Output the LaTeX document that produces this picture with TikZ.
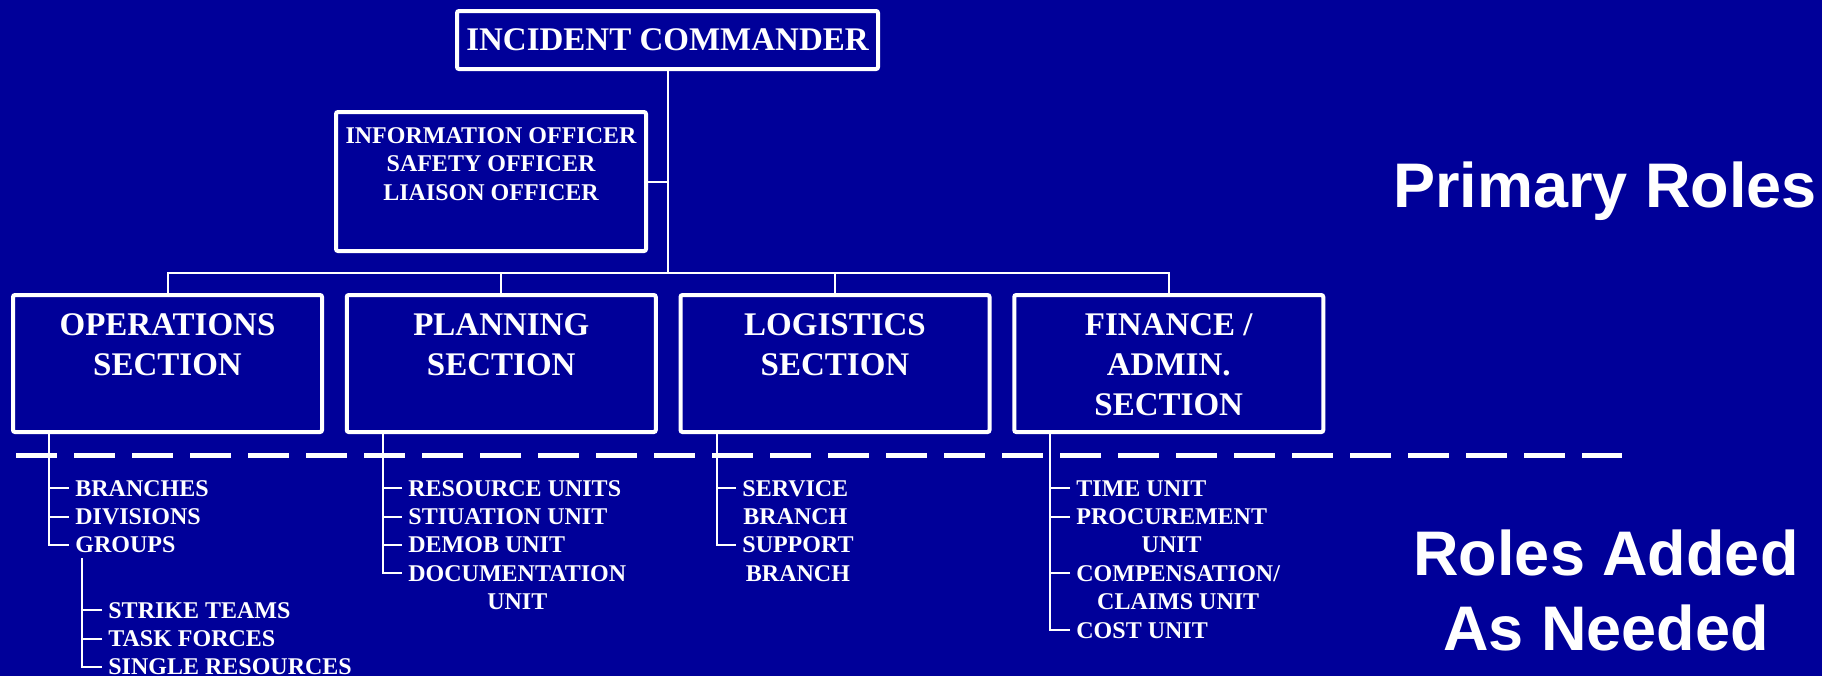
\documentclass[tikz,border=0pt]{standalone}
\usepackage{fontspec}
\setmainfont{Liberation Serif}
\newfontfamily\labelsans{Liberation Sans}
\definecolor{slideblue}{RGB}{0,0,153}
\begin{document}
% one unit = one pixel of a 1840 x 676 slide, y running downwards
\begin{tikzpicture}[x=0.5pt,y=-0.5pt,
  box/.style={draw=white, line width=2pt, rounded corners=1pt, inner sep=0pt},
  boxtext/.style={text=white, align=center, inner sep=0pt, anchor=north},
  bigtitle/.style={font=\bfseries\fontsize{16.5}{20}\selectfont},
  smalltitle/.style={font=\bfseries\fontsize{12}{14.2}\selectfont},
  section/.style={box, minimum width=154.5pt, minimum height=68.5pt},
  item/.style={text=white, font=\bfseries\fontsize{12}{14.2}\selectfont,
    inner xsep=3pt, inner ysep=0pt, anchor=base west},
  cont/.style={item, anchor=base},
  link/.style={draw=white, line width=1pt},
  divider/.style={draw=white, line width=2.5pt, dash pattern=on 20.5pt off 8.5pt},
  sidelabel/.style={text=white, inner sep=0pt, anchor=base,
    font=\labelsans\bfseries\fontsize{31.5}{37.5}\selectfont}]

\useasboundingbox (0,0) rectangle (1840,676);
\fill[white] (0,0) rectangle (1840,676);
\fill[slideblue] (0,0) rectangle (1822,676);

% command and staff
\node[box, bigtitle, text=white, minimum width=210.5pt, minimum height=29pt]
  (ic) at (667.5,40) {INCIDENT COMMANDER};
\node[box, minimum width=155pt, minimum height=69.5pt] (info) at (491,181.5) {};
\node[boxtext, smalltitle] (infotext) at (491,127)
  {INFORMATION OFFICER\\SAFETY OFFICER\\LIAISON OFFICER};

% general staff sections
\node[section] (ops)  at (167.5,363.5) {};
\node[section] (plan) at (501.25,363.5) {};
\node[section] (log)  at (835,363.5) {};
\node[section] (fin)  at (1168.75,363.5) {};
\node[boxtext, bigtitle] (opstext)  at (167.5,313)  {OPERATIONS\\SECTION};
\node[boxtext, bigtitle] (plantext) at (501.25,313) {PLANNING\\SECTION};
\node[boxtext, bigtitle] (logtext)  at (835,313)    {LOGISTICS\\SECTION};
\node[boxtext, bigtitle] (fintext)  at (1168.75,313) {FINANCE /\\ADMIN.\\SECTION};

% tree connectors
\coordinate (hub) at (667.5,273);
\draw[link] (ic.south) -- (hub);
\draw[link] (info.east) -- (info.east -| hub);
\draw[link] (ops.north) -- (ops.north |- hub) -- (fin.north |- hub) -- (fin.north);
\draw[link] (plan.north) -- (plan.north |- hub);
\draw[link] (log.north) -- (log.north |- hub);

% dividing line between primary and added roles
\coordinate (sepL) at (16,455);
\coordinate (sepR) at (1622,455);
\draw[divider] (sepL) -- (sepR);

% operations
\node[item] (branches)  at (69,496)   {BRANCHES};
\node[item] (divisions) at (69,524.4) {DIVISIONS};
\node[item] (groups)    at (69,552.8) {GROUPS};
\coordinate (opsstem) at (49,434);
\draw[link] (opsstem) |- (groups.west);
\draw[link] (branches.west) -- (branches.west -| opsstem);
\draw[link] (divisions.west) -- (divisions.west -| opsstem);

\node[item] (strike) at (102,618)   {STRIKE TEAMS};
\node[item] (task)   at (102,646.4) {TASK FORCES};
\node[item] (single) at (102,674.8) {SINGLE RESOURCES};
\coordinate (groupstem) at (82,558);
\draw[link] (groupstem) |- (single.west);
\draw[link] (strike.west) -- (strike.west -| groupstem);
\draw[link] (task.west) -- (task.west -| groupstem);

% planning
\node[item] (resource)  at (402,496)   {RESOURCE UNITS};
\node[item] (situation) at (402,524.4) {STIUATION UNIT};
\node[item] (demob)     at (402,552.8) {DEMOB UNIT};
\node[item] (docu)      at (402,581.2) {DOCUMENTATION};
\node[cont] (docu2) at ([yshift=-14.2pt]docu.base) {UNIT};
\coordinate (planstem) at (382.5,434);
\draw[link] (planstem) |- (docu.west);
\draw[link] (resource.west) -- (resource.west -| planstem);
\draw[link] (situation.west) -- (situation.west -| planstem);
\draw[link] (demob.west) -- (demob.west -| planstem);

% logistics
\node[item] (service)  at (736,496)   {SERVICE};
\node[cont] (service2) at ([yshift=-14.2pt]service.base) {BRANCH};
\node[item] (support)  at (736,552.8) {SUPPORT};
\node[cont] (support2) at ([yshift=-14.2pt]support.base) {BRANCH};
\coordinate (logstem) at (717,434);
\draw[link] (logstem) |- (support.west);
\draw[link] (service.west) -- (service.west -| logstem);

% finance / admin
\node[item] (time)   at (1070,496)   {TIME UNIT};
\node[item] (procure) at (1070,524.4) {PROCUREMENT};
\node[cont] (procure2) at ([yshift=-14.2pt]procure.base) {UNIT};
\node[item] (comp)   at (1070,581.2) {COMPENSATION/};
\node[cont] (comp2)  at ([yshift=-14.2pt]comp.base) {CLAIMS UNIT};
\node[item] (cost)   at (1070,638)   {COST UNIT};
\coordinate (finstem) at (1050,434);
\draw[link] (finstem) |- (cost.west);
\draw[link] (time.west) -- (time.west -| finstem);
\draw[link] (procure.west) -- (procure.west -| finstem);
\draw[link] (comp.west) -- (comp.west -| finstem);

% side captions
\node[sidelabel] (primary) at (1605,207) {Primary Roles};
\node[sidelabel] (added)   at (1606,575) {Roles Added};
\node[sidelabel] (needed)  at (1606,650) {As Needed};
\end{tikzpicture}
\end{document}
